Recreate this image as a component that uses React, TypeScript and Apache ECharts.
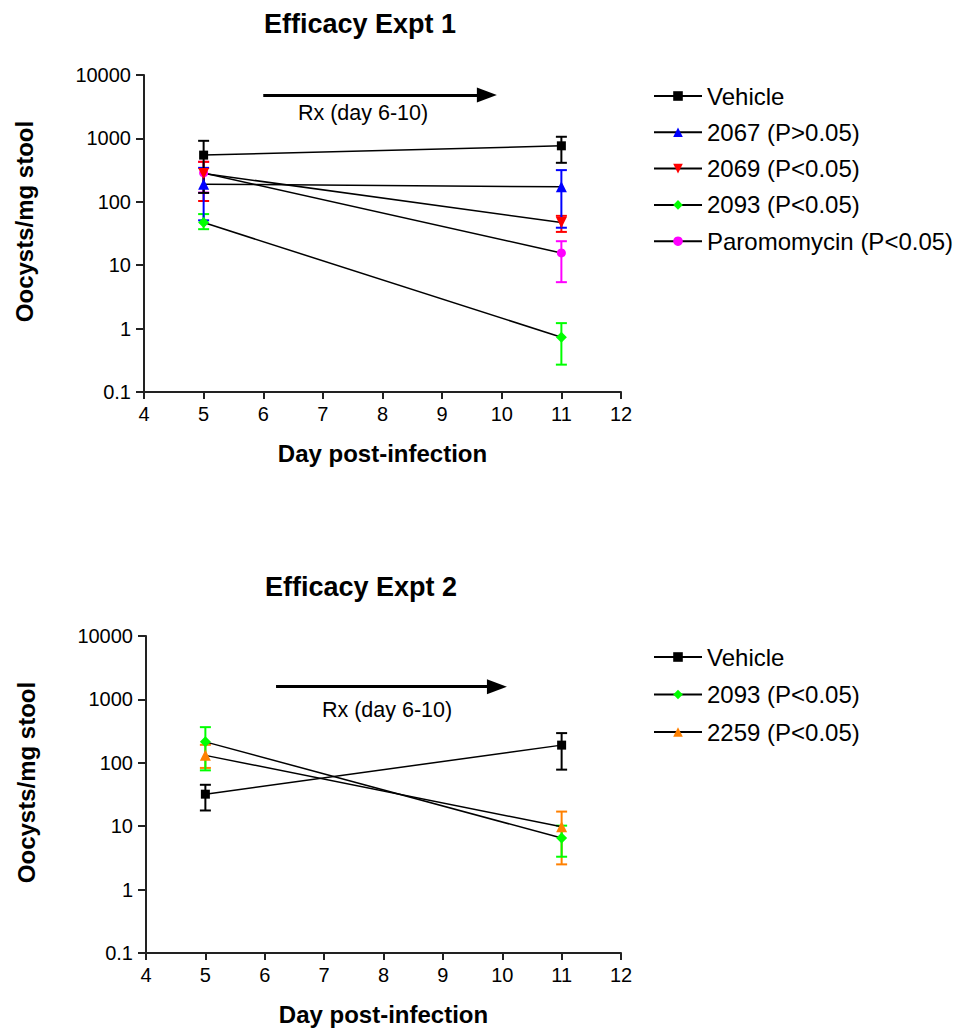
import React, { useEffect, useRef } from 'react';
import * as echarts from 'echarts';

const FONT = '"Liberation Sans", Arial, Helvetica, sans-serif';

// Shared axes
const days = [5, 11];
const xTickLabels = ['4', '5', '6', '7', '8', '9', '10', '11', '12'];
const yTickLabels = ['0.1', '1', '10', '100', '1000', '10000'];

// Efficacy Expt 1
const e1Names = ['Vehicle', '2067 (P>0.05)', '2069 (P<0.05)', '2093 (P<0.05)', 'Paromomycin (P<0.05)'];
const e1Vehicle = [545, 764];
const e1VehicleLow = [138, 412];
const e1VehicleHigh = [916, 1061];
const e1C2067 = [190, 172];
const e1C2067Low = [51, 39];
const e1C2067High = [343, 316];
const e1C2069 = [280, 47];
const e1C2069Low = [103, 33.5];
const e1C2069High = [427, 60];
const e1C2093 = [47, 0.73];
const e1C2093Low = [37, 0.27];
const e1C2093High = [64, 1.22];
const e1Paro = [285, 15.6];
const e1ParoLow = [140, 5.4];
const e1ParoHigh = [427, 23.9];

// Efficacy Expt 2
const e2Names = ['Vehicle', '2093 (P<0.05)', '2259 (P<0.05)'];
const e2Vehicle = [32, 190];
const e2VehicleLow = [17.7, 78];
const e2VehicleHigh = [45, 294];
const e2C2093 = [214, 6.5];
const e2C2093Low = [76, 3.3];
const e2C2093High = [365, 10.2];
const e2C2259 = [131, 9.8];
const e2C2259Low = [83, 2.5];
const e2C2259High = [192, 17];

// Treatment window arrows (day start, day end, height)
const rxLabel = 'Rx (day 6-10)';
const e1Arrow = [6.0, 9.75, 4830];
const e2Arrow = [6.19, 9.91, 1585];

const styles: Record<string, { color: string; symbol: string; size: number; rotate?: number }> = {
  'Vehicle': { color: '#000000', symbol: 'rect', size: 9 },
  '2067 (P>0.05)': { color: '#0000FF', symbol: 'triangle', size: 11 },
  '2069 (P<0.05)': { color: '#FF0000', symbol: 'triangle', size: 11, rotate: 180 },
  '2093 (P<0.05)': { color: '#00FF00', symbol: 'diamond', size: 11 },
  'Paromomycin (P<0.05)': { color: '#FF00FF', symbol: 'circle', size: 9 },
  '2259 (P<0.05)': { color: '#FF8000', symbol: 'triangle', size: 11 },
};

function errSeries(grid: number, name: string, low: number[], high: number[]) {
  const color = styles[name].color;
  return {
    type: 'custom',
    name: `err-${grid}-${name}`,
    xAxisIndex: grid,
    yAxisIndex: grid,
    z: 2,
    silent: true,
    encode: { x: 0, y: [1, 2] },
    data: days.map((d, i) => [d, low[i], high[i]]),
    renderItem: (params: any, api: any) => {
      const x = api.value(0);
      const p1 = api.coord([x, api.value(1)]);
      const p2 = api.coord([x, api.value(2)]);
      const hw = 5.5;
      const style = { stroke: color, lineWidth: 2, fill: 'none' };
      return {
        type: 'group',
        children: [
          { type: 'line', shape: { x1: p1[0], y1: p1[1], x2: p2[0], y2: p2[1] }, style },
          { type: 'line', shape: { x1: p1[0] - hw, y1: p1[1], x2: p1[0] + hw, y2: p1[1] }, style },
          { type: 'line', shape: { x1: p2[0] - hw, y1: p2[1], x2: p2[0] + hw, y2: p2[1] }, style },
        ],
      };
    },
  };
}

function lineSeries(grid: number, name: string, values: number[], arrow?: number[]) {
  const s = styles[name];
  const out: any = {
    type: 'line',
    name,
    xAxisIndex: grid,
    yAxisIndex: grid,
    z: 3,
    data: days.map((d, i) => [d, values[i]]),
    symbol: s.symbol,
    symbolSize: s.size,
    symbolRotate: s.rotate || 0,
    showSymbol: true,
    itemStyle: { color: s.color, borderWidth: 0 },
    lineStyle: { color: '#000000', width: 1.5 },
  };
  if (arrow) {
    out.markLine = {
      silent: true,
      symbol: ['none', 'triangle'],
      symbolSize: [15, 20],
      lineStyle: { color: '#000000', width: 3, type: 'solid' },
      label: { show: false },
      data: [[{ coord: [arrow[0], arrow[2]] }, { coord: [arrow[1], arrow[2]] }]],
    };
  }
  return out;
}

function xAxisCfg(gridIndex: number) {
  return {
    type: 'value',
    gridIndex,
    min: 4,
    max: 12,
    interval: 1,
    name: 'Day post-infection',
    nameLocation: 'middle',
    nameGap: 49,
    nameTextStyle: { fontFamily: FONT, fontSize: 24, fontWeight: 'bold', color: '#000' },
    axisLine: { show: true, onZero: false, lineStyle: { color: '#222', width: 2 } },
    axisTick: { show: true, length: 7, lineStyle: { color: '#222', width: 2 } },
    axisLabel: {
      fontFamily: FONT,
      fontSize: 20,
      color: '#000',
      margin: 12,
      formatter: (v: number) => xTickLabels[Math.round(v) - 4] ?? '',
    },
    splitLine: { show: false },
  };
}

function yAxisCfg(gridIndex: number) {
  return {
    type: 'log',
    logBase: 10,
    gridIndex,
    min: 0.1,
    max: 10000,
    name: 'Oocysts/mg stool',
    nameLocation: 'middle',
    nameRotate: 90,
    nameGap: 108,
    nameTextStyle: {
      fontFamily: FONT,
      fontSize: 24,
      fontWeight: 'bold',
      color: '#000',
      padding: [0, 0, 0, 24],
    },
    axisLine: { show: true, onZero: false, lineStyle: { color: '#222', width: 2 } },
    axisTick: { show: true, length: 8, lineStyle: { color: '#222', width: 2 } },
    axisLabel: {
      fontFamily: FONT,
      fontSize: 20,
      color: '#000',
      margin: 13,
      formatter: (v: number) => yTickLabels[Math.round(Math.log10(v)) + 1] ?? '',
    },
    splitLine: { show: false },
  };
}

function legendCfg(top: number, names: string[], gap: number) {
  return {
    orient: 'vertical',
    left: 653,
    top,
    padding: 0,
    itemWidth: 48,
    itemHeight: 12,
    itemGap: gap,
    selectedMode: false,
    textStyle: { fontFamily: FONT, fontSize: 24, color: '#000', lineHeight: 26 },
    data: names,
  };
}

export default function App() {
  const ref = useRef<HTMLDivElement>(null);

  useEffect(() => {
    if (!ref.current) return;
    const chart = echarts.init(ref.current, null, { renderer: 'svg' });

    const series: any[] = [
      errSeries(0, 'Paromomycin (P<0.05)', e1ParoLow, e1ParoHigh),
      errSeries(0, '2093 (P<0.05)', e1C2093Low, e1C2093High),
      errSeries(0, '2069 (P<0.05)', e1C2069Low, e1C2069High),
      errSeries(0, '2067 (P>0.05)', e1C2067Low, e1C2067High),
      errSeries(0, 'Vehicle', e1VehicleLow, e1VehicleHigh),
      lineSeries(0, 'Paromomycin (P<0.05)', e1Paro),
      lineSeries(0, '2093 (P<0.05)', e1C2093),
      lineSeries(0, '2069 (P<0.05)', e1C2069),
      lineSeries(0, '2067 (P>0.05)', e1C2067),
      lineSeries(0, 'Vehicle', e1Vehicle, e1Arrow),

      errSeries(1, '2259 (P<0.05)', e2C2259Low, e2C2259High),
      errSeries(1, '2093 (P<0.05)', e2C2093Low, e2C2093High),
      errSeries(1, 'Vehicle', e2VehicleLow, e2VehicleHigh),
      lineSeries(1, '2259 (P<0.05)', e2C2259),
      lineSeries(1, '2093 (P<0.05)', e2C2093),
      lineSeries(1, 'Vehicle', e2Vehicle, e2Arrow),
    ];

    chart.setOption({
      animation: false,
      backgroundColor: '#ffffff',
      grid: [
        { left: 144, top: 75, width: 477, height: 317, containLabel: false },
        { left: 146, top: 636, width: 475, height: 317, containLabel: false },
      ],
      xAxis: [xAxisCfg(0), xAxisCfg(1)],
      yAxis: [yAxisCfg(0), yAxisCfg(1)],
      legend: [legendCfg(83, e1Names, 10.3), legendCfg(644, e2Names, 11.5)],
      graphic: [
        {
          type: 'text', x: 360, y: 24,
          style: { text: 'Efficacy Expt 1', fontFamily: FONT, fontSize: 27, fontWeight: 'bold', fill: '#000', textAlign: 'center', textVerticalAlign: 'middle' },
        },
        {
          type: 'text', x: 361, y: 587,
          style: { text: 'Efficacy Expt 2', fontFamily: FONT, fontSize: 27, fontWeight: 'bold', fill: '#000', textAlign: 'center', textVerticalAlign: 'middle' },
        },
        {
          type: 'text', x: 363, y: 113,
          style: { text: rxLabel, fontFamily: FONT, fontSize: 21.5, fill: '#000', textAlign: 'center', textVerticalAlign: 'middle' },
        },
        {
          type: 'text', x: 387, y: 710,
          style: { text: rxLabel, fontFamily: FONT, fontSize: 21.5, fill: '#000', textAlign: 'center', textVerticalAlign: 'middle' },
        },
      ],
      series,
    });

    return () => chart.dispose();
  }, []);

  return (
    <div
      ref={ref}
      style={{ position: 'absolute', left: 0, top: 0, width: 978, height: 1032, background: '#fff' }}
    />
  );
}
